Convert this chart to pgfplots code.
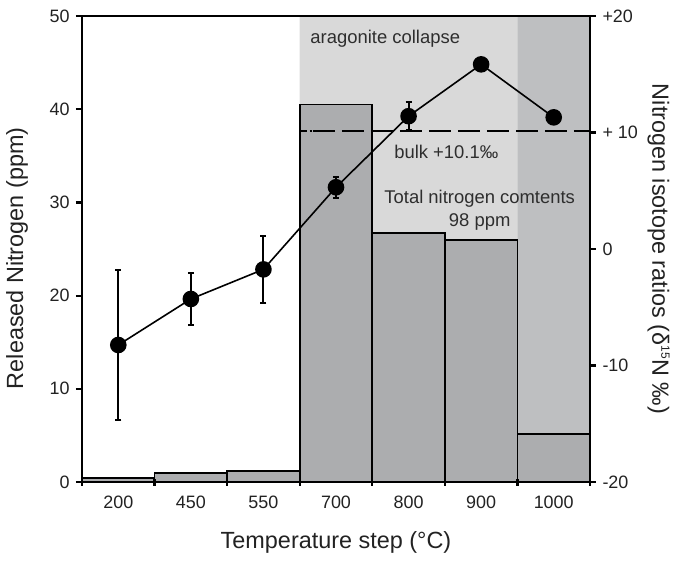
\documentclass[border=0pt]{standalone}
\usepackage{pgfplots}
\pgfplotsset{compat=1.18}
\usepackage{fontspec}
\setmainfont{Liberation Sans}
\definecolor{bgl}{HTML}{D9D9D9}
\definecolor{bgd}{HTML}{BEBFC1}
\definecolor{barc}{HTML}{ACADAF}
\definecolor{txt}{HTML}{222222}
\definecolor{ann}{HTML}{2E2E2E}
\begin{document}
\begin{tikzpicture}
\begin{axis}[name=ax1,
  width=508bp, height=466bp, scale only axis,
  xmin=-0.5, xmax=6.5, ymin=0, ymax=50,
  axis on top,
  axis line style={line width=2.7bp},
  tick align=outside,
  xtick pos=bottom, ytick pos=left,
  xtick={0,1,2,3,4,5,6},
  xticklabels={200,450,550,700,800,900,1000},
  major x tick style={draw=none},
  minor xtick={-0.5,0.5,1.5,2.5,3.5,4.5,5.5,6.5},
  minor tick length=7bp,
  minor x tick style={line width=2.2bp, black, yshift=3.5bp},
  major tick length=6bp,
  major y tick style={line width=2.2bp, black},
  ytick={0,10,20,30,40,50},
  yticklabels={0,10,20,30,40,50},
  ticklabel style={font=\fontsize{18}{20}\selectfont, text=txt},
  xticklabel style={yshift=-4bp},
  yticklabel style={xshift=-3bp},
  every axis y label/.style={at={(axis description cs:-0.128,0.48)}, rotate=90, anchor=center},
  every axis x label/.style={at={(axis description cs:0.5,-0.13)}, anchor=center},
  label style={font=\fontsize{23.5}{25}\selectfont, text=txt},
  ylabel={Released Nitrogen (ppm)},
  xlabel={Temperature step (°C)},
]
\addplot[fill=bgl, draw=none] coordinates {(2.5,0) (2.5,50) (5.5,50) (5.5,0)} \closedcycle;
\addplot[fill=bgd, draw=none] coordinates {(5.5,0) (5.5,50) (6.5,50) (6.5,0)} \closedcycle;
\addplot[ybar, bar width=1, bar shift=0pt, fill=barc, draw=black, line width=1.8bp]
  coordinates {(0,0.4) (1,1.0) (2,1.2) (3,40.5) (4,26.7) (5,26.0) (6,5.15)};
\node[anchor=west, font=\fontsize{18.5}{20}\selectfont, text=ann] at (axis cs:2.6,47.6) {aragonite collapse};
\node[font=\fontsize{18.5}{20}\selectfont, text=ann] at (axis cs:4.52,35.4) {bulk +10.1‰};
\node[align=center, font=\fontsize{18.5}{23}\selectfont, text=ann] at (axis cs:4.98,29.2) {Total nitrogen comtents\\98 ppm};
\end{axis}
\begin{axis}[
  width=508bp, height=466bp, scale only axis,
  xmin=-0.5, xmax=6.5, ymin=-20, ymax=20,
  axis x line=none, axis y line*=right,
  axis line style={line width=2.7bp, -},
  tick align=outside,
  major tick length=6bp,
  major y tick style={line width=2.2bp, black},
  ytick={-20,-10,0,10,20},
  yticklabels={-20,-10,0,+ 10,+20},
  ticklabel style={font=\fontsize{18}{20}\selectfont, text=txt},
  yticklabel style={xshift=3bp},
  every axis y label/.style={at={(axis description cs:1.135,0.5)}, rotate=-90, anchor=center},
  label style={font=\fontsize{23.5}{25}\selectfont, text=txt},
  ylabel={Nitrogen isotope ratios (δ\textsuperscript{\fontsize{12}{12}\selectfont 15}N ‰)},
]
\addplot[black, line width=2bp, dash pattern=on 7bp off 3bp on 2bp off 100bp] coordinates {(2.5,10.1) (2.68,10.1)};
\addplot[black, line width=2bp, dash pattern=on 22bp off 7bp] coordinates {(2.68,10.1) (6.5,10.1)};
\addplot[black, line width=1.6bp, mark=*, mark size=7.5bp, mark options={fill=black, solid},
  error bars/.cd, y dir=both, y explicit,
  error bar style={line width=1.9bp, black},
  error mark options={rotate=90, mark size=3bp, line width=1.9bp, black}]
  coordinates {
  (0,-8.24) +- (0,6.45)
  (1,-4.29) +- (0,2.2)
  (2,-1.75) +- (0,2.85)
  (3,5.3) +- (0,0.9)
  (4,11.4) +- (0,1.2)
  (5,15.85) +- (0,0)
  (6,11.3) +- (0,0)
  };
\end{axis}
\path (ax1.south west) ++(-82bp,-88bp) rectangle ++(674bp,570bp);
\end{tikzpicture}
\end{document}
